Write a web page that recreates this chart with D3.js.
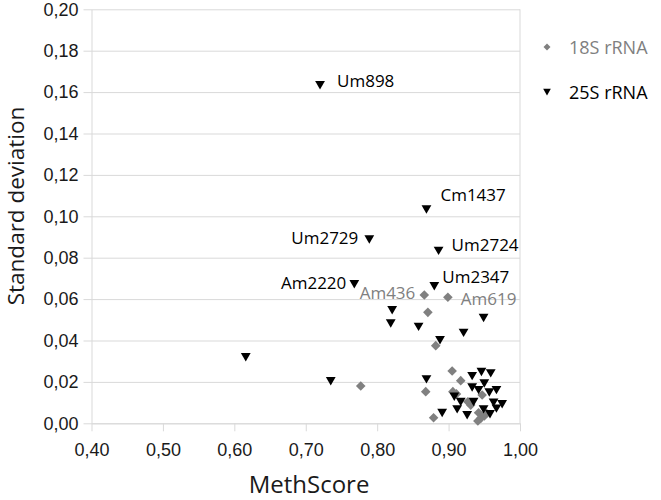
<!DOCTYPE html>
<html><head><meta charset="utf-8">
<script src="https://cdn.jsdelivr.net/npm/d3@7"></script>
<style>body{margin:0;background:#fff}svg{display:block}</style>
</head><body><div id="chart"></div>
<script>
// ---- data ----
const xTicks = [0.40,0.50,0.60,0.70,0.80,0.90,1.00];
const yTicks = [0,0.02,0.04,0.06,0.08,0.10,0.12,0.14,0.16,0.18,0.20];
const seriesNames = ["18S rRNA","25S rRNA"];
const s18x = [0.866,0.899,0.871,0.882,0.777,0.868,0.905,0.917,0.906,0.911,0.947,0.927,0.931,0.879,0.942,0.953,0.945,0.950,0.941];
const s18y = [0.0620,0.0609,0.0536,0.0375,0.0180,0.0153,0.0253,0.0206,0.0153,0.0142,0.0137,0.0104,0.0088,0.0027,0.0051,0.0048,0.0024,0.0035,0.0011];
const s25x = [0.720,0.869,0.789,0.886,0.768,0.880,0.821,0.819,0.858,0.949,0.921,0.888,0.616,0.735,0.869,0.933,0.946,0.959,0.950,0.933,0.942,0.957,0.967,0.908,0.917,0.935,0.912,0.926,0.891,0.949,0.963,0.975,0.967,0.958];
const s25y = [0.1634,0.1034,0.0889,0.0834,0.0673,0.0663,0.0547,0.0483,0.0467,0.0510,0.0438,0.0402,0.0320,0.0204,0.0213,0.0229,0.0249,0.0242,0.0193,0.0174,0.0161,0.0150,0.0161,0.0129,0.0104,0.0104,0.0068,0.0040,0.0051,0.0068,0.0101,0.0093,0.0072,0.0045];
// labels: [series index, point index, text]
const labelSeries = [1,1,1,1,1,1,0,0];
const labelPoint  = [0,1,2,3,4,5,0,1];
const labelText   = ["Um898","Cm1437","Um2729","Um2724","Am2220","Um2347","Am436","Am619"];

// ---- styles ----
const labelStyle = {
  "Um898":{dx:17,dy:2,a:"start"},
  "Cm1437":{dx:14,dy:-8.6,a:"start"},
  "Um2729":{dx:-11,dy:4.7,a:"end"},
  "Um2724":{dx:13,dy:0,a:"start"},
  "Am2220":{dx:-8,dy:5.3,a:"end"},
  "Um2347":{dx:8,dy:-3.3,a:"start"},
  "Am436":{dx:-9,dy:4,a:"end"},
  "Am619":{dx:13,dy:7.7,a:"start"}
};
const colors = ["#808080","#000000"];
const W=661,H=500;
const svg = d3.select("#chart").append("svg").attr("width",W).attr("height",H);
const x = d3.scaleLinear().domain([0.4,1.0]).range([91.5,520]);
const y = d3.scaleLinear().domain([0,0.2]).range([423.3,9.3]);
const fmt = d => d3.format(".2f")(d).replace(".",",");
const grid="#d9d9d9";

// gridlines + y axis
const ya = svg.append("g").attr("transform",`translate(${x(0.4)},0)`)
  .call(d3.axisLeft(y).tickValues(yTicks).tickFormat(fmt).tickSizeInner(-(x(1)-x(0.4))).tickSizeOuter(0).tickPadding(13));
ya.select(".domain").attr("stroke",grid);
ya.selectAll(".tick line").attr("stroke",grid).attr("x1",-8);
ya.selectAll(".tick text").attr("font-family","'Liberation Sans',Arial,sans-serif").attr("font-size",18).attr("fill","#1a1a1a");

// x axis
const xa = svg.append("g").attr("transform",`translate(0,${y(0)})`)
  .call(d3.axisBottom(x).tickValues(xTicks).tickFormat(fmt).tickSizeInner(8).tickSizeOuter(0).tickPadding(12));
xa.select(".domain").attr("stroke",grid);
xa.selectAll(".tick line").attr("stroke",grid);
xa.selectAll(".tick text").attr("font-family","'Liberation Sans',Arial,sans-serif").attr("font-size",18).attr("fill","#1a1a1a");
// right border
svg.append("line").attr("x1",x(1)).attr("x2",x(1)).attr("y1",y(0.2)).attr("y2",y(0)).attr("stroke",grid);

const diamond = "M0,-4.8L4.8,0L0,4.8L-4.8,0Z";
const tri = "M-4.9,-4L4.9,-4L0,4.4Z";

const d18 = s18x.map((v,i)=>[v,s18y[i]]);
const d25 = s25x.map((v,i)=>[v,s25y[i]]);
svg.append("g").selectAll("path").data(d18).join("path")
  .attr("d",diamond).attr("fill",colors[0])
  .attr("transform",d=>`translate(${x(d[0])},${y(d[1])})`);
svg.append("g").selectAll("path").data(d25).join("path")
  .attr("d",tri).attr("fill",colors[1])
  .attr("transform",d=>`translate(${x(d[0])},${y(d[1])})`);

// labels
const all=[d18,d25];
labelText.forEach((t,i)=>{
  const p = all[labelSeries[i]][labelPoint[i]], st = labelStyle[t];
  svg.append("text").attr("x",x(p[0])+st.dx).attr("y",y(p[1])+st.dy)
    .attr("text-anchor",st.a).attr("font-family","'Open Sans',sans-serif").attr("font-size",17)
    .attr("fill",colors[labelSeries[i]]).text(t);
});

// axis titles
svg.append("text").attr("x",309).attr("y",492.5).attr("text-anchor","middle")
  .attr("font-family","'Open Sans',sans-serif").attr("font-size",24).attr("fill","#1a1a1a").text("MethScore");
svg.append("text").attr("transform","translate(24,206) rotate(-90)").attr("text-anchor","middle")
  .attr("font-family","'Open Sans',sans-serif").attr("font-size",22.5).attr("fill","#1a1a1a").text("Standard deviation");

// legend
const leg = svg.append("g");
seriesNames.forEach((n,i)=>{
  const ly = 47 + i*45;
  leg.append("path").attr("d",i===0?"M0,-3.5L3.5,0L0,3.5L-3.5,0Z":"M-3.8,-3.2L3.8,-3.2L0,3.6Z").attr("fill",colors[i])
    .attr("transform",`translate(547,${ly})`);
  leg.append("text").attr("x",569).attr("y",ly+6.5).attr("font-family","'Open Sans',sans-serif")
    .attr("font-size",18).attr("fill",colors[i]).text(n);
});
</script></body></html>
